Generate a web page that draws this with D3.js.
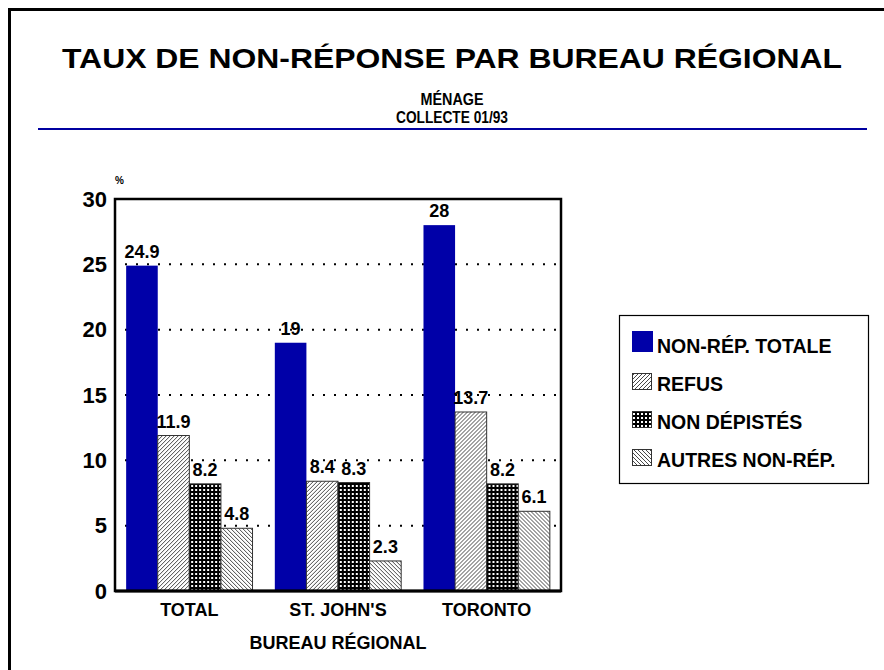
<!DOCTYPE html>
<html>
<head>
<meta charset="utf-8">
<script src="https://cdn.jsdelivr.net/npm/d3@7.9.0/dist/d3.min.js"></script>
<style>
  body { margin: 0; background: #fff; }
  svg { display: block; font-family: 'Liberation Sans', Arial, sans-serif; }
  text { fill: #000; font-weight: bold; }
</style>
</head>
<body>
<svg id="chart" width="884" height="670"></svg>
<script>
// Chart data
const categories = ['TOTAL', "ST. JOHN'S", 'TORONTO'];
const seriesNames = ['NON-RÉP. TOTALE', 'REFUS', 'NON DÉPISTÉS', 'AUTRES NON-RÉP.'];
const nonRepTotale = [24.9, 19, 28];
const refus = [11.9, 8.4, 13.7];
const nonDepistes = [8.2, 8.3, 8.2];
const autresNonRep = [4.8, 2.3, 6.1];
const yTicks = [0, 5, 10, 15, 20, 25, 30];

const seriesValues = [nonRepTotale, refus, nonDepistes, autresNonRep];
const fills = ['#0000a8', 'url(#hatchFwd)', 'url(#grid)', 'url(#hatchBack)'];

const svg = d3.select('#chart');

// patterns
const defs = svg.append('defs');

defs.append('pattern')
  .attr('id', 'hatchFwd')
  .attr('patternUnits', 'userSpaceOnUse')
  .attr('width', 4).attr('height', 4)
  .call((p) => {
    p.append('rect').attr('width', 4).attr('height', 4).attr('fill', '#fff');
    p.append('path')
      .attr('d', 'M-1,1 l2,-2 M0,4 l4,-4 M3,5 l2,-2')
      .attr('stroke', '#333').attr('stroke-width', 0.9);
  });

defs.append('pattern')
  .attr('id', 'hatchBack')
  .attr('patternUnits', 'userSpaceOnUse')
  .attr('width', 4).attr('height', 4)
  .call((p) => {
    p.append('rect').attr('width', 4).attr('height', 4).attr('fill', '#fff');
    p.append('path')
      .attr('d', 'M-1,3 l2,2 M0,0 l4,4 M3,-1 l2,2')
      .attr('stroke', '#333').attr('stroke-width', 0.9);
  });

defs.append('pattern')
  .attr('id', 'grid')
  .attr('patternUnits', 'userSpaceOnUse')
  .attr('width', 4).attr('height', 4)
  .call((p) => {
    p.append('rect').attr('width', 4).attr('height', 4).attr('fill', '#000');
    p.append('rect').attr('x', 1).attr('y', 1).attr('width', 2).attr('height', 2).attr('fill', '#fff');
  });

// outer frame
svg.append('rect')
  .attr('x', 9.5).attr('y', 9.5)
  .attr('width', 900).attr('height', 700)
  .attr('fill', 'none')
  .attr('stroke', '#000')
  .attr('stroke-width', 3);

// titles
svg.append('text')
  .attr('x', 452).attr('y', 68)
  .attr('text-anchor', 'middle')
  .attr('font-size', 28)
  .attr('textLength', 780)
  .attr('lengthAdjust', 'spacingAndGlyphs')
  .text('TAUX DE NON-RÉPONSE PAR BUREAU RÉGIONAL');

svg.append('text')
  .attr('x', 452).attr('y', 105)
  .attr('text-anchor', 'middle')
  .attr('font-size', 16)
  .attr('textLength', 63)
  .attr('lengthAdjust', 'spacingAndGlyphs')
  .text('MÉNAGE');

svg.append('text')
  .attr('x', 452).attr('y', 123)
  .attr('text-anchor', 'middle')
  .attr('font-size', 16)
  .attr('textLength', 112)
  .attr('lengthAdjust', 'spacingAndGlyphs')
  .text('COLLECTE 01/93');

svg.append('line')
  .attr('x1', 38).attr('x2', 867)
  .attr('y1', 129).attr('y2', 129)
  .attr('stroke', '#0000a0')
  .attr('stroke-width', 2);

// scales
const plot = { left: 115, right: 561, top: 199, bottom: 591 };

const x0 = d3.scaleBand()
  .domain(categories)
  .range([plot.left, plot.right])
  .paddingInner(0.15)
  .paddingOuter(0.075);

const x1 = d3.scaleBand()
  .domain(seriesNames)
  .range([0, x0.bandwidth()]);

const y = d3.scaleLinear()
  .domain([0, 30])
  .range([plot.bottom, plot.top]);

// dotted gridlines
svg.append('g')
  .selectAll('line')
  .data(yTicks.filter((t) => t > 0 && t < 30))
  .join('line')
  .attr('x1', plot.left + 10).attr('x2', plot.right)
  .attr('y1', (d) => y(d)).attr('y2', (d) => y(d))
  .attr('stroke', '#000')
  .attr('stroke-width', 2)
  .attr('stroke-dasharray', '2,9');

// y axis labels
const yAxis = d3.axisLeft(y).tickValues(yTicks).tickSize(0).tickPadding(8);
svg.append('g')
  .attr('transform', `translate(${plot.left},0)`)
  .call(yAxis)
  .call((g) => g.select('.domain').remove())
  .selectAll('text')
  .attr('font-size', 22)
  .attr('font-family', 'Liberation Sans, Arial, sans-serif')
  .attr('fill', '#000');

svg.append('text')
  .attr('x', 115).attr('y', 184)
  .attr('font-size', 10)
  .text('%');

// bars
categories.forEach((cat, ci) => {
  const g = svg.append('g').attr('transform', `translate(${x0(cat)},0)`);

  seriesNames.forEach((name, si) => {
    const v = seriesValues[si][ci];
    g.append('rect')
      .attr('x', x1(name))
      .attr('y', y(v))
      .attr('width', x1.bandwidth())
      .attr('height', y(0) - y(v))
      .attr('fill', fills[si])
      .attr('stroke', si === 0 ? 'none' : '#333')
      .attr('stroke-width', 1);

    g.append('text')
      .attr('x', x1(name) + x1.bandwidth() / 2)
      .attr('y', y(v) - 8)
      .attr('text-anchor', 'middle')
      .attr('font-size', 18)
      .text(String(v));
  });
});

// plot frame
svg.append('rect')
  .attr('x', plot.left).attr('y', plot.top)
  .attr('width', plot.right - plot.left)
  .attr('height', plot.bottom - plot.top)
  .attr('fill', 'none')
  .attr('stroke', '#000')
  .attr('stroke-width', 2.5);

svg.append('line')
  .attr('x1', plot.left).attr('x2', plot.right)
  .attr('y1', plot.bottom).attr('y2', plot.bottom)
  .attr('stroke', '#000')
  .attr('stroke-width', 3);

// category labels
const xAxis = d3.axisBottom(x0).tickSize(0).tickPadding(12);
svg.append('g')
  .attr('transform', `translate(0,${plot.bottom})`)
  .call(xAxis)
  .call((g) => g.select('.domain').remove())
  .selectAll('text')
  .attr('font-size', 18)
  .attr('font-family', 'Liberation Sans, Arial, sans-serif')
  .attr('fill', '#000');

svg.append('text')
  .attr('x', (plot.left + plot.right) / 2).attr('y', 649)
  .attr('text-anchor', 'middle')
  .attr('font-size', 18)
  .text('BUREAU RÉGIONAL');

// legend
const legend = svg.append('g');
legend.append('rect')
  .attr('x', 619.5).attr('y', 315.5)
  .attr('width', 249).attr('height', 168)
  .attr('fill', '#fff')
  .attr('stroke', '#000')
  .attr('stroke-width', 1.2);

const legendY = d3.scalePoint()
  .domain(seriesNames)
  .range([353, 467]);

seriesNames.forEach((name, si) => {
  const by = legendY(name);
  if (si === 0) {
    legend.append('rect')
      .attr('x', 632).attr('y', by - 22)
      .attr('width', 21).attr('height', 21)
      .attr('fill', fills[si]);
  } else {
    legend.append('rect')
      .attr('x', 632.5).attr('y', by - 17.5)
      .attr('width', 19).attr('height', 16)
      .attr('fill', fills[si])
      .attr('stroke', '#333')
      .attr('stroke-width', 1);
  }
  legend.append('text')
    .attr('x', 657).attr('y', by)
    .attr('font-size', 19.5)
    .text(name);
});
</script>
</body>
</html>
